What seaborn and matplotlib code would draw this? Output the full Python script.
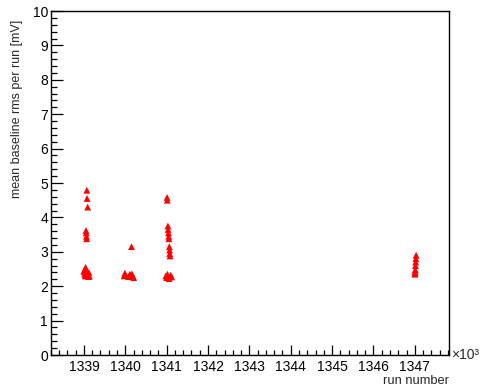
import numpy as np
import pandas as pd
import matplotlib
matplotlib.use("Agg")
import matplotlib.pyplot as plt
from matplotlib.ticker import MultipleLocator
import seaborn as sns

# Run numbers and the mean baseline rms measured in each run [mV]
runs_1339 = [1339000, 1339010, 1339020, 1339030, 1339035, 1339040, 1339045,
             1339050, 1339055, 1339060, 1339065, 1339070, 1339075, 1339090,
             1339100, 1339110, 1339120, 1339130]
rms_1339 = [2.45, 2.42, 2.35, 2.30, 2.48, 2.55, 2.38,
            3.62, 3.55, 3.45, 3.38, 4.79, 4.55, 4.30,
            2.33, 2.28, 2.40, 2.30]

runs_1340 = [1339970, 1339990, 1340010, 1340080, 1340110, 1340130,
             1340150, 1340160, 1340190, 1340200]
rms_1340 = [2.30, 2.38, 2.32, 2.28, 2.35, 2.30,
            3.15, 2.36, 2.28, 2.25]

runs_1341 = [1340980, 1341000, 1341020, 1341040, 1341060, 1341010, 1341015,
             1341030, 1341035, 1341045, 1341050, 1341055, 1341065, 1341070,
             1341075, 1341080, 1341100, 1341120]
rms_1341 = [2.30, 2.25, 2.35, 2.28, 2.22, 4.58, 4.50,
            3.75, 3.65, 3.55, 3.45, 3.38, 3.15, 3.05,
            2.95, 2.88, 2.32, 2.27]

runs_1347 = [1347000, 1347005, 1347008, 1347010, 1347015, 1347020, 1347025, 1347030]
rms_1347 = [2.35, 2.42, 2.38, 2.48, 2.60, 2.70, 2.80, 2.90]

x_ticks = [1339, 1340, 1341, 1342, 1343, 1344, 1345, 1346, 1347]
y_ticks = [0, 1, 2, 3, 4, 5, 6, 7, 8, 9, 10]

runs = runs_1339 + runs_1340 + runs_1341 + runs_1347
rms = rms_1339 + rms_1340 + rms_1341 + rms_1347
df = pd.DataFrame({"run_k": np.array(runs) / 1000.0, "rms": rms})

sns.set_style("ticks")
plt.rcParams["font.family"] = ["Liberation Sans", "DejaVu Sans"]

FS_TICK = 10.0
FS_XLAB = 9.3
FS_YLAB = 9.0

fig = plt.figure(figsize=(4.82, 3.88), dpi=100)
ax = fig.add_axes([0.1052, 0.085, 0.8270, 0.8866])

sns.scatterplot(data=df, x="run_k", y="rms", ax=ax, marker="^",
                color="#ff0000", edgecolor="none", s=24, linewidth=0,
                legend=False)

# axis range with 10% margin around the data span, fixed 0-10 mV
xmin, xmax = df["run_k"].min(), df["run_k"].max()
span = xmax - xmin
ax.set_xlim(xmin - 0.1 * span, xmax + 0.1 * span)
ax.set_ylim(0, 10)

ax.set_xticks(x_ticks)
ax.set_xticklabels([str(t) for t in x_ticks])
ax.set_yticks(y_ticks)
ax.set_yticklabels([str(t) for t in y_ticks])
ax.xaxis.set_minor_locator(MultipleLocator(0.2))
ax.yaxis.set_minor_locator(MultipleLocator(0.2))

ax.tick_params(which="both", direction="in", top=False, right=False,
               colors="black", width=0.9, labelsize=FS_TICK)
ax.tick_params(axis="x", which="major", length=7.5, pad=3.5)
ax.tick_params(axis="x", which="minor", length=3.8)
ax.tick_params(axis="y", which="major", length=8.5, pad=2)
ax.tick_params(axis="y", which="minor", length=4.3)

for sp in ax.spines.values():
    sp.set_visible(True)
    sp.set_color("black")
    sp.set_linewidth(1.0)

ax.set_xlabel("run number", fontsize=FS_XLAB, loc="right")
ax.xaxis.set_label_coords(1.0, -0.058)
ax.set_ylabel("mean baseline rms per run [mV]", fontsize=FS_YLAB, loc="top")
ax.yaxis.set_label_coords(-0.07, 0.974)

ax.text(1.004, 0.0, "\u00d710\u00b3", transform=ax.transAxes,
        fontsize=FS_TICK, ha="left", va="center")

fig.savefig("out.png", dpi=100)
